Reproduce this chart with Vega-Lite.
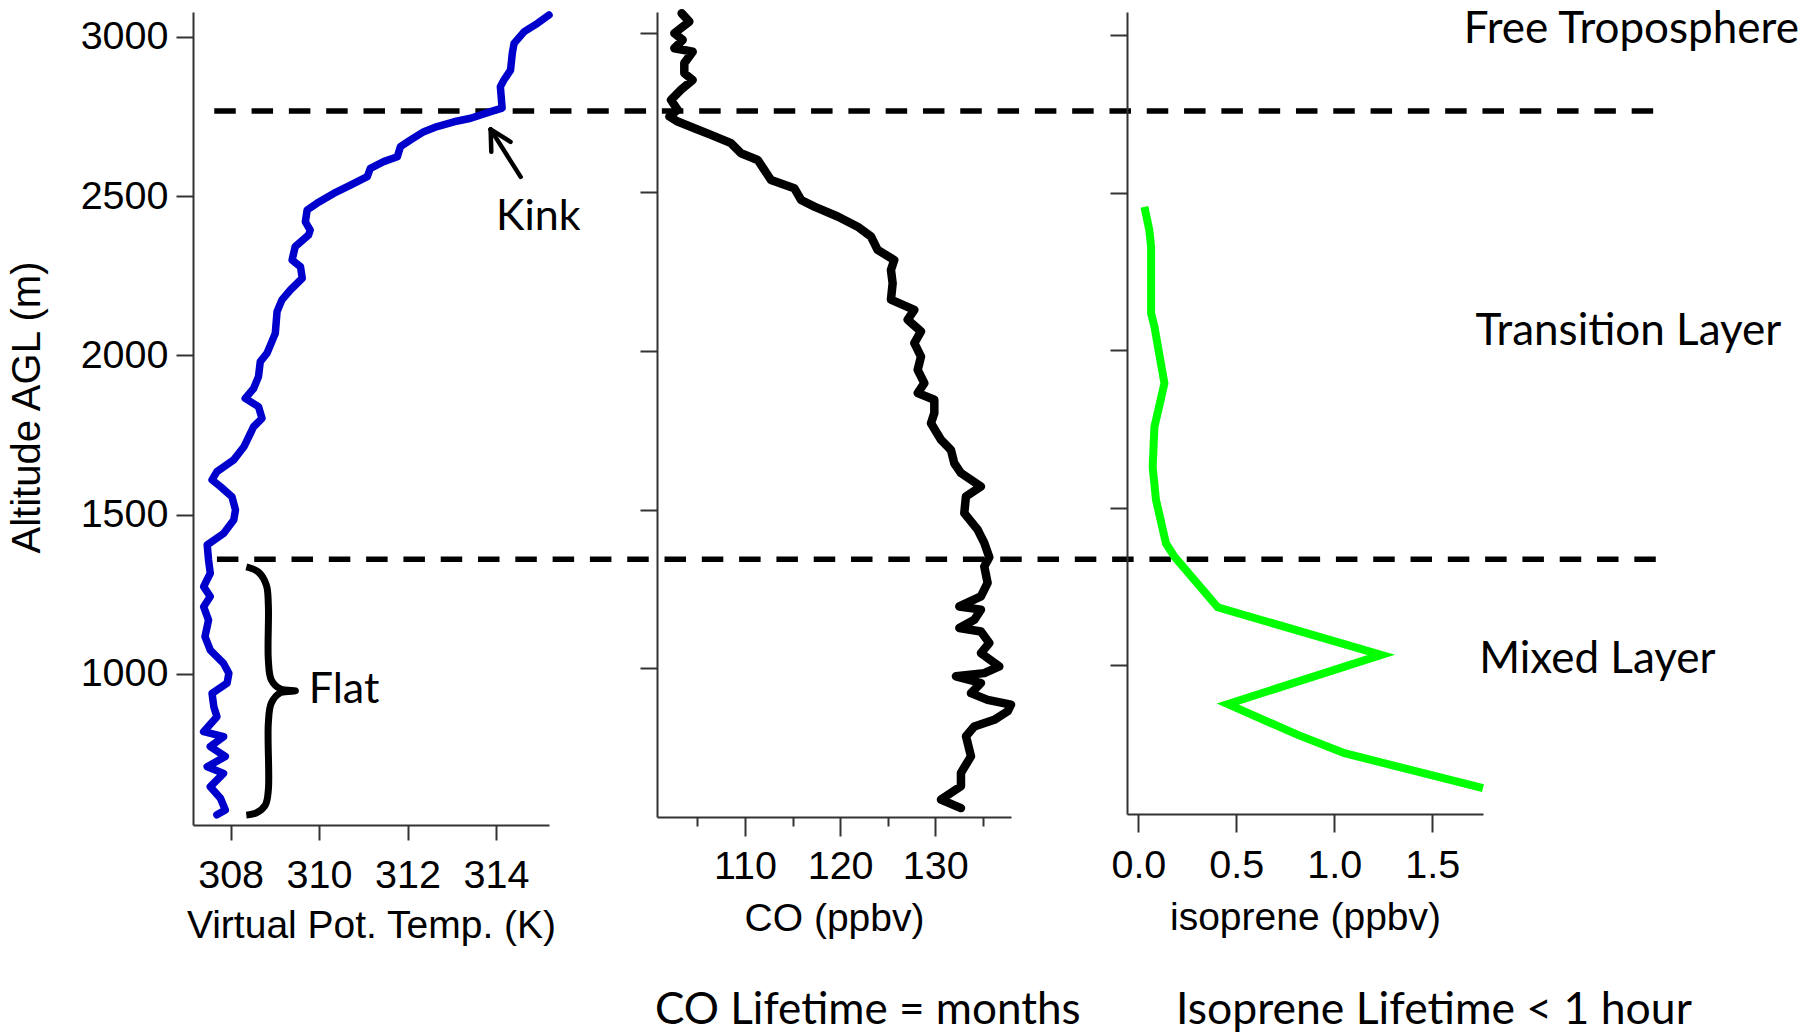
{
  "$schema": "https://vega.github.io/schema/vega-lite/v6.json",
  "background": "white",
  "padding": {"left": 7, "top": 8, "right": 10, "bottom": 0},
  "bounds": "flush",
  "spacing": 108,
  "config": {
    "view": {"stroke": null},
    "axis": {
      "grid": false,
      "domainColor": "#333333",
      "domainWidth": 2,
      "tickColor": "#333333",
      "tickWidth": 2,
      "labelFont": "Liberation Sans",
      "labelFontSize": 39.5,
      "labelColor": "black",
      "titleFont": "Liberation Sans",
      "titleFontSize": 39,
      "titleFontWeight": "normal",
      "titleColor": "black"
    },
    "text": {"font": "Lato", "fontSize": 44, "color": "black"}
  },
  "datasets": {
    "theta": [
      {"T": 315.2, "alt": 3068}, {"T": 314.94, "alt": 3042}, {"T": 314.64, "alt": 3016}, {"T": 314.41, "alt": 2979},
      {"T": 314.37, "alt": 2948}, {"T": 314.33, "alt": 2895}, {"T": 314.18, "alt": 2864}, {"T": 314.1, "alt": 2843},
      {"T": 314.14, "alt": 2776}, {"T": 313.88, "alt": 2765}, {"T": 313.43, "alt": 2744}, {"T": 313.05, "alt": 2733},
      {"T": 312.67, "alt": 2718}, {"T": 312.37, "alt": 2702}, {"T": 312.07, "alt": 2676}, {"T": 311.84, "alt": 2655},
      {"T": 311.77, "alt": 2623}, {"T": 311.46, "alt": 2608}, {"T": 311.16, "alt": 2587}, {"T": 311.09, "alt": 2561},
      {"T": 310.71, "alt": 2534}, {"T": 310.33, "alt": 2508}, {"T": 309.95, "alt": 2477}, {"T": 309.73, "alt": 2456},
      {"T": 309.69, "alt": 2419}, {"T": 309.8, "alt": 2393}, {"T": 309.76, "alt": 2377}, {"T": 309.46, "alt": 2341},
      {"T": 309.39, "alt": 2299}, {"T": 309.58, "alt": 2278}, {"T": 309.62, "alt": 2242}, {"T": 309.35, "alt": 2205},
      {"T": 309.16, "alt": 2174}, {"T": 309.05, "alt": 2137}, {"T": 309.01, "alt": 2069}, {"T": 308.9, "alt": 2032},
      {"T": 308.82, "alt": 2006}, {"T": 308.67, "alt": 1980}, {"T": 308.63, "alt": 1933}, {"T": 308.52, "alt": 1896},
      {"T": 308.33, "alt": 1865}, {"T": 308.63, "alt": 1839}, {"T": 308.71, "alt": 1802}, {"T": 308.52, "alt": 1776},
      {"T": 308.3, "alt": 1713}, {"T": 308.07, "alt": 1672}, {"T": 307.69, "alt": 1635}, {"T": 307.58, "alt": 1609},
      {"T": 307.77, "alt": 1588}, {"T": 308.03, "alt": 1556}, {"T": 308.11, "alt": 1515}, {"T": 308.07, "alt": 1483},
      {"T": 307.84, "alt": 1441}, {"T": 307.47, "alt": 1405}, {"T": 307.5, "alt": 1358}, {"T": 307.54, "alt": 1316},
      {"T": 307.39, "alt": 1274}, {"T": 307.54, "alt": 1243}, {"T": 307.39, "alt": 1211}, {"T": 307.5, "alt": 1169},
      {"T": 307.42, "alt": 1117}, {"T": 307.54, "alt": 1075}, {"T": 307.84, "alt": 1033}, {"T": 307.96, "alt": 1002},
      {"T": 307.92, "alt": 971}, {"T": 307.58, "alt": 939}, {"T": 307.62, "alt": 897}, {"T": 307.69, "alt": 866},
      {"T": 307.39, "alt": 819}, {"T": 307.84, "alt": 803}, {"T": 307.54, "alt": 772}, {"T": 307.88, "alt": 741},
      {"T": 307.47, "alt": 709}, {"T": 307.84, "alt": 688}, {"T": 307.54, "alt": 646}, {"T": 307.77, "alt": 610},
      {"T": 307.88, "alt": 573}, {"T": 307.69, "alt": 558}
    ],
    "co": [
      {"co": 103.34, "alt": 3063}, {"co": 104.15, "alt": 3037}, {"co": 102.57, "alt": 3000}, {"co": 103.45, "alt": 2979},
      {"co": 102.57, "alt": 2953}, {"co": 104.5, "alt": 2942}, {"co": 103.62, "alt": 2906}, {"co": 103.62, "alt": 2874},
      {"co": 104.5, "alt": 2853}, {"co": 103.27, "alt": 2822}, {"co": 102.22, "alt": 2790}, {"co": 102.92, "alt": 2759},
      {"co": 102.05, "alt": 2738}, {"co": 102.92, "alt": 2722}, {"co": 104.68, "alt": 2701}, {"co": 106.43, "alt": 2680},
      {"co": 108.53, "alt": 2654}, {"co": 109.58, "alt": 2622}, {"co": 111.33, "alt": 2601}, {"co": 112.03, "alt": 2570},
      {"co": 112.73, "alt": 2538}, {"co": 115.18, "alt": 2512}, {"co": 115.89, "alt": 2475}, {"co": 117.29, "alt": 2454},
      {"co": 119.74, "alt": 2423}, {"co": 121.84, "alt": 2391}, {"co": 123.24, "alt": 2360}, {"co": 123.94, "alt": 2318},
      {"co": 125.69, "alt": 2286}, {"co": 125.34, "alt": 2255}, {"co": 125.52, "alt": 2213}, {"co": 125.34, "alt": 2161},
      {"co": 127.8, "alt": 2129}, {"co": 127.1, "alt": 2098}, {"co": 128.5, "alt": 2061}, {"co": 127.8, "alt": 2024},
      {"co": 128.5, "alt": 1982}, {"co": 128.15, "alt": 1940}, {"co": 128.85, "alt": 1898}, {"co": 128.15, "alt": 1867},
      {"co": 129.9, "alt": 1846}, {"co": 129.9, "alt": 1804}, {"co": 129.55, "alt": 1772}, {"co": 130.6, "alt": 1720},
      {"co": 131.65, "alt": 1688}, {"co": 132.0, "alt": 1646}, {"co": 132.7, "alt": 1615}, {"co": 134.8, "alt": 1573},
      {"co": 133.22, "alt": 1541}, {"co": 133.05, "alt": 1489}, {"co": 134.45, "alt": 1437}, {"co": 135.15, "alt": 1395},
      {"co": 135.68, "alt": 1350}, {"co": 135.15, "alt": 1321}, {"co": 135.5, "alt": 1269}, {"co": 134.8, "alt": 1227},
      {"co": 132.53, "alt": 1195}, {"co": 134.8, "alt": 1185}, {"co": 134.1, "alt": 1153}, {"co": 132.53, "alt": 1127},
      {"co": 134.8, "alt": 1116}, {"co": 135.68, "alt": 1080}, {"co": 134.8, "alt": 1048}, {"co": 136.73, "alt": 1006},
      {"co": 135.15, "alt": 985}, {"co": 132.17, "alt": 975}, {"co": 134.8, "alt": 954}, {"co": 133.75, "alt": 922},
      {"co": 135.5, "alt": 901}, {"co": 137.96, "alt": 886}, {"co": 137.61, "alt": 865}, {"co": 136.2, "alt": 838},
      {"co": 134.1, "alt": 817}, {"co": 133.23, "alt": 786}, {"co": 133.75, "alt": 723}, {"co": 132.7, "alt": 671},
      {"co": 132.7, "alt": 629}, {"co": 130.6, "alt": 587}, {"co": 132.7, "alt": 560}
    ],
    "iso": [
      {"iso": 0.031, "alt": 2455}, {"iso": 0.056, "alt": 2381}, {"iso": 0.065, "alt": 2328}, {"iso": 0.065, "alt": 2117},
      {"iso": 0.082, "alt": 2075}, {"iso": 0.133, "alt": 1895}, {"iso": 0.082, "alt": 1757}, {"iso": 0.073, "alt": 1630},
      {"iso": 0.09, "alt": 1525}, {"iso": 0.141, "alt": 1387}, {"iso": 0.184, "alt": 1345}, {"iso": 0.405, "alt": 1184},
      {"iso": 1.24, "alt": 1033}, {"iso": 0.457, "alt": 877}, {"iso": 0.814, "alt": 779}, {"iso": 1.052, "alt": 721},
      {"iso": 1.759, "alt": 610}
    ],
    "dashes": [
      {"x0": 307.63, "x1": 340.23, "alt": 2767},
      {"x0": 307.69, "x1": 340.23, "alt": 1360}
    ],
    "brace": [
      {"T": 308.355, "alt": 1336}, {"T": 308.627, "alt": 1320}, {"T": 308.808, "alt": 1279}, {"T": 308.853, "alt": 1217},
      {"T": 308.853, "alt": 1044}, {"T": 308.921, "alt": 981}, {"T": 309.125, "alt": 953}, {"T": 309.465, "alt": 947},
      {"T": 309.125, "alt": 941}, {"T": 308.921, "alt": 909}, {"T": 308.853, "alt": 846}, {"T": 308.853, "alt": 636},
      {"T": 308.785, "alt": 589}, {"T": 308.582, "alt": 564}, {"T": 308.355, "alt": 557}
    ],
    "arrow": [
      {"x0": 314.559, "a0": 2560, "x1": 313.88, "a1": 2709},
      {"x0": 313.895, "a0": 2639, "x1": 313.88, "a1": 2709},
      {"x0": 314.33, "a0": 2670, "x1": 313.88, "a1": 2709}
    ],
    "notes1": [
      {"T": 314.0, "alt": 2393, "label": "Kink"},
      {"T": 309.766, "alt": 910, "label": "Flat"}
    ],
    "notes3": [
      {"iso": 2.516, "alt": 2974, "label": "Free Troposphere"},
      {"iso": 2.501, "alt": 2016, "label": "Transition Layer"},
      {"iso": 2.343, "alt": 975, "label": "Mixed Layer"}
    ]
  },
  "hconcat": [
    {
      "width": 356,
      "height": 813,
      "layer": [
        {
          "data": {"name": "dashes"},
          "mark": {"type": "rule", "strokeDash": [21.5, 15.8], "strokeWidth": 5.5, "color": "black", "clip": false},
          "encoding": {
            "x": {"field": "x0", "type": "quantitative", "scale": {"domain": [307.149, 315.2], "nice": false, "zero": false},
              "axis": {"title": "Virtual Pot. Temp. (K)", "values": [308, 310, 312, 314], "format": "d", "tickSize": 15, "labelPadding": 16, "titlePadding": 12}},
            "x2": {"field": "x1"},
            "y": {"field": "alt", "type": "quantitative", "scale": {"domain": [526, 3077.5], "nice": false, "zero": false},
              "axis": {"title": "Altitude AGL (m)", "titleFontSize": 40, "titleY": 395, "values": [1000, 1500, 2000, 2500, 3000], "format": "d", "tickSize": 17, "labelPadding": 8, "titlePadding": 33}}
          }
        },
        {
          "data": {"name": "theta"},
          "mark": {"type": "line", "color": "#0000cc", "strokeWidth": 7.5, "strokeJoin": "round", "strokeCap": "round"},
          "encoding": {
            "x": {"field": "T", "type": "quantitative", "scale": {"domain": [307.149, 315.2], "nice": false, "zero": false}},
            "y": {"field": "alt", "type": "quantitative", "scale": {"domain": [526, 3077.5], "nice": false, "zero": false}},
            "order": {"field": "alt", "sort": "descending"}
          }
        },
        {
          "data": {"name": "brace"},
          "mark": {"type": "line", "color": "black", "strokeWidth": 7, "interpolate": "catmull-rom", "strokeCap": "butt", "clip": false},
          "encoding": {
            "x": {"field": "T", "type": "quantitative", "scale": {"domain": [307.149, 315.2], "nice": false, "zero": false}},
            "y": {"field": "alt", "type": "quantitative", "scale": {"domain": [526, 3077.5], "nice": false, "zero": false}},
            "order": {"field": "alt", "sort": "descending"}
          }
        },
        {
          "data": {"name": "arrow"},
          "mark": {"type": "rule", "color": "black", "strokeWidth": 4.5, "strokeCap": "round", "clip": false},
          "encoding": {
            "x": {"field": "x0", "type": "quantitative", "scale": {"domain": [307.149, 315.2], "nice": false, "zero": false}},
            "x2": {"field": "x1"},
            "y": {"field": "a0", "type": "quantitative", "scale": {"domain": [526, 3077.5], "nice": false, "zero": false}},
            "y2": {"field": "a1"}
          }
        },
        {
          "data": {"name": "notes1"},
          "mark": {"type": "text", "align": "left", "baseline": "alphabetic", "fontSize": 43, "clip": false},
          "encoding": {
            "x": {"field": "T", "type": "quantitative", "scale": {"domain": [307.149, 315.2], "nice": false, "zero": false}},
            "y": {"field": "alt", "type": "quantitative", "scale": {"domain": [526, 3077.5], "nice": false, "zero": false}},
            "text": {"field": "label"}
          }
        }
      ]
    },
    {
      "spacing": 116,
      "bounds": "flush",
      "hconcat": [
        {
          "width": 354,
          "height": 805,
          "title": {"text": "CO Lifetime = months", "orient": "bottom", "anchor": "start", "frame": "group", "dx": -2, "font": "Lato", "fontSize": 44, "fontWeight": "normal", "color": "black", "offset": 50},
          "data": {"name": "co"},
          "mark": {"type": "line", "color": "black", "strokeWidth": 8.5, "strokeJoin": "round", "strokeCap": "round"},
          "encoding": {
            "x": {"field": "co", "type": "quantitative", "scale": {"domain": [100.75, 137.96], "nice": false, "zero": false},
              "axis": {"title": "CO (ppbv)", "values": [105, 110, 115, 120, 125, 130, 135], "labelExpr": "datum.value % 10 === 0 ? datum.label : ''", "tickSize": 19,
                "tickDash": {"condition": {"test": "datum.value % 10 !== 0", "value": [9, 200]}, "value": []}, "labelPadding": 11, "titlePadding": 14}},
            "y": {"field": "alt", "type": "quantitative", "scale": {"domain": [532, 3067], "nice": false, "zero": false},
              "axis": {"title": null, "labels": false, "values": [1000, 1500, 2000, 2500, 3000], "tickSize": 17}},
            "order": {"field": "alt", "sort": "descending"}
          }
        },
        {
          "width": 356,
          "height": 802,
          "title": {"text": "Isoprene Lifetime < 1 hour", "orient": "bottom", "anchor": "start", "frame": "group", "dx": 49, "font": "Lato", "fontSize": 44.5, "fontWeight": "normal", "color": "black", "offset": 51},
          "layer": [
            {
              "data": {"name": "iso"},
              "mark": {"type": "line", "color": "#00ff00", "strokeWidth": 8, "strokeJoin": "miter"},
              "encoding": {
                "x": {"field": "iso", "type": "quantitative", "scale": {"domain": [-0.058, 1.759], "nice": false, "zero": false},
                  "axis": {"title": "isoprene (ppbv)", "values": [0, 0.5, 1, 1.5], "format": ".1f", "tickSize": 18, "labelPadding": 14, "titlePadding": 14}},
                "y": {"field": "alt", "type": "quantitative", "scale": {"domain": [528, 3073.5], "nice": false, "zero": false},
                  "axis": {"title": null, "labels": false, "values": [1000, 1500, 2000, 2500, 3000], "tickSize": 17}},
                "order": {"field": "alt", "sort": "descending"}
              }
            },
            {
              "data": {"name": "notes3"},
              "mark": {"type": "text", "align": "center", "baseline": "alphabetic", "clip": false},
              "encoding": {
                "x": {"field": "iso", "type": "quantitative", "scale": {"domain": [-0.058, 1.759], "nice": false, "zero": false}},
                "y": {"field": "alt", "type": "quantitative", "scale": {"domain": [528, 3073.5], "nice": false, "zero": false}},
                "text": {"field": "label"}
              }
            }
          ]
        }
      ]
    }
  ]
}
